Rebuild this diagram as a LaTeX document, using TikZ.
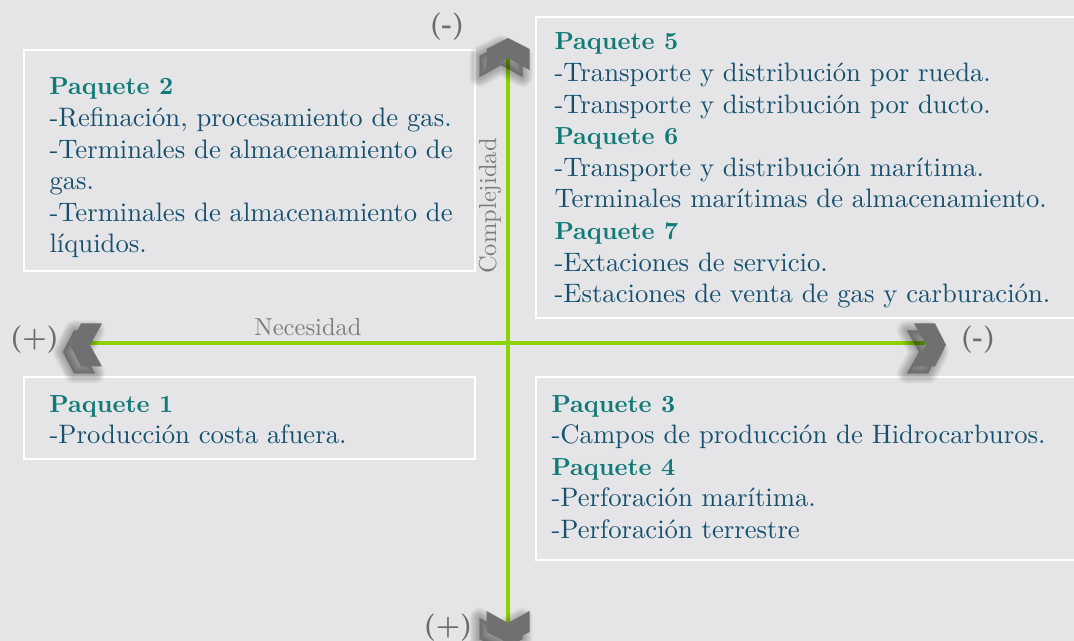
\documentclass[tikz,border=0pt]{standalone}
\definecolor{bgc}{RGB}{229,229,231}
\definecolor{headc}{RGB}{16,122,120}
\definecolor{bodyc}{RGB}{22,80,112}
\definecolor{markc}{RGB}{108,108,108}
\definecolor{labc}{RGB}{125,125,125}
\definecolor{chevc}{RGB}{112,112,112}
\definecolor{axisc}{RGB}{140,210,0}
\newcommand\chevpath{(0,0) -- (-11,-21.5) -- (-32,-21.5) -- (-20,0) -- (-32,21.5) -- (-11,21.5) -- cycle}
\tikzset{
  boxline/.style={draw=white, line width=1.9pt},
  txt/.style={anchor=base west, inner sep=0pt, text=bodyc, font=\fontsize{10}{12}\selectfont, scale=2.0},
  hd/.style={anchor=base west, inner sep=0pt, text=headc, font=\fontsize{10}{12}\selectfont\bfseries, scale=1.85},
  endmark/.style={inner sep=0pt, text=markc, font=\fontsize{10}{12}\selectfont\bfseries, scale=2.05},
  axlab/.style={inner sep=0pt, text=labc, font=\fontsize{10}{12}\selectfont, scale=1.84},
  axisline/.style={draw=axisc, line width=2.3pt},
  chevfill/.style={fill=chevc},
  chevshadow/.style={fill=black, draw=black, opacity=0.045, line join=round}
}
\begin{document}
\begin{tikzpicture}[x=0.75pt,y=-0.75pt]
\fill[bgc] (0,0) rectangle (1074,641);
\useasboundingbox (0,0) rectangle (1074,641);
\clip (0,0) rectangle (1074,641);

% boxes
\draw[boxline] (24,50) rectangle (475,271);
\draw[boxline] (536,17) rectangle (1090,318);
\draw[boxline] (24,377) rectangle (475,459);
\draw[boxline] (536,377) rectangle (1090,560);

% axes
\coordinate (vtop) at (508,58);
\coordinate (vbot) at (508,623);
\coordinate (hleft) at (90,343);
\coordinate (hright) at (925,343);
\draw[axisline] (vtop) -- (vbot);
\draw[axisline] (hleft) -- (hright);

% chevron shadows (soft, offset to lower left)
\foreach \sx/\sy/\rot in {63/352/180, 939/352/0, 501/45/90, 501/650/-90}{
  \begin{scope}[shift={(\sx,\sy)}, rotate=\rot]
    \foreach \w in {15,13,11,9,7,5,3,1}{
      \filldraw[chevshadow, line width=\w pt] \chevpath;
    }
  \end{scope}
}
% chevrons
\begin{scope}[shift={(70,345)}, rotate=180] \fill[chevfill] \chevpath; \end{scope}
\begin{scope}[shift={(946,345)}, rotate=0] \fill[chevfill] \chevpath; \end{scope}
\begin{scope}[shift={(508,38)}, rotate=90] \fill[chevfill] \chevpath; \end{scope}
\begin{scope}[shift={(508,643)}, rotate=-90] \fill[chevfill] \chevpath; \end{scope}

% axis end marks
\node[endmark] (mtop) at (447,27) {(-)};
\node[endmark] (mleft) at (34.5,340) {(+)};
\node[endmark] (mright) at (978,340) {(-)};
\node[endmark] (mbot) at (448,628) {(+)};

% axis labels
\node[axlab, anchor=base] (nec) at (308,336) {Necesidad};
\node[axlab, anchor=base, rotate=90] (comp) at (496,206) {Complejidad};

% box 2
\node[hd] (p2h) at (49,95) {Paquete 2};
\node[txt] (p2a) at (49,126.6) {-Refinación, procesamiento de gas.};
\node[txt] (p2b) at (49,158.2) {-Terminales de almacenamiento de};
\node[txt] (p2c) at (49,189.8) {gas.};
\node[txt] (p2d) at (49,221.4) {-Terminales de almacenamiento de};
\node[txt] (p2e) at (49,253) {líquidos.};

% box 5-7
\node[hd] (p5h) at (554,50) {Paquete 5};
\node[txt] (p5a) at (554,81.6) {-Transporte y distribución por rueda.};
\node[txt] (p5b) at (554,113.2) {-Transporte y distribución por ducto.};
\node[hd] (p6h) at (554,144.8) {Paquete 6};
\node[txt] (p6a) at (554,176.4) {-Transporte y distribución marítima.};
\node[txt] (p6b) at (554,208) {Terminales marítimas de almacenamiento.};
\node[hd] (p7h) at (554,239.6) {Paquete 7};
\node[txt] (p7a) at (554,271.2) {-Extaciones de servicio.};
\node[txt] (p7b) at (554,302.8) {-Estaciones de venta de gas y carburación.};

% box 1
\node[hd] (p1h) at (49,412) {Paquete 1};
\node[txt] (p1a) at (49,443.6) {-Producción costa afuera.};

% box 3-4
\node[hd] (p3h) at (551,412) {Paquete 3};
\node[txt] (p3a) at (551,443.6) {-Campos de producción de Hidrocarburos.};
\node[hd] (p4h) at (551,475.2) {Paquete 4};
\node[txt] (p4a) at (551,506.8) {-Perforación marítima.};
\node[txt] (p4b) at (551,538.4) {-Perforación terrestre};
\end{tikzpicture}
\end{document}
